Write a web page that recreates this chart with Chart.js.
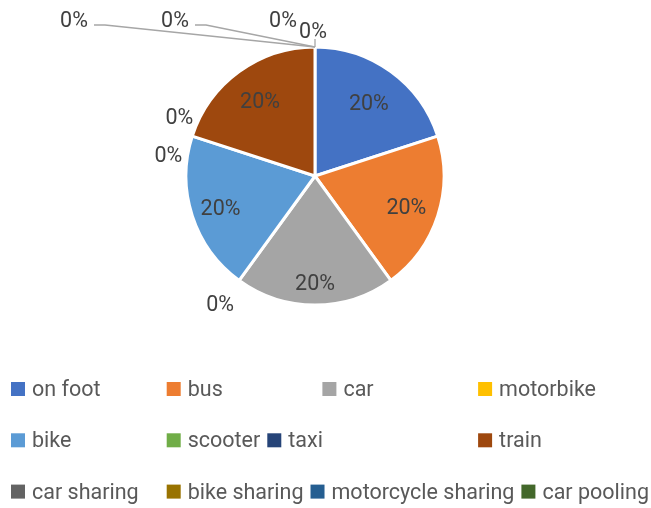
<!DOCTYPE html>
<html>
<head>
<meta charset="utf-8">
<script src="https://cdn.jsdelivr.net/npm/chart.js@4/dist/chart.umd.min.js"></script>
<style>
    body { margin: 0; background: #fff; }
    canvas { display: block; }
</style>
</head>
<body>
<canvas id="meuGrafico" width="651" height="508"></canvas>
<script>
const categories = ['on foot', 'bus', 'car', 'motorbike', 'bike', 'scooter', 'taxi', 'train',
    'car sharing', 'bike sharing', 'motorcycle sharing', 'car pooling']
const shares = [20, 20, 20, 0, 20, 0, 0, 20, 0, 0, 0, 0]
const sliceColors = ['#4472C4', '#ED7D31', '#A5A5A5', '#FFC000', '#5B9BD5', '#70AD47',
    '#264478', '#9E480E', '#636363', '#997300', '#255E91', '#43682B']

const fontName = '21.5px Roboto'

// Excel best fit puts the inner labels at slightly different depths
const insideDepth = { 'on foot': 0.71, 'bus': 0.745, 'car': 0.825, 'bike': 0.77, 'train': 0.725 }

// where Excel pushed the 0% labels, relative to the slice edge point
const zeroShift = {
    'motorbike': [-19, 23],
    'scooter': [-24, 18],
    'taxi': [-13, -20],
    'car sharing': [-241, -28],
    'bike sharing': [-140, -28],
    'motorcycle sharing': [-32, -28],
    'car pooling': [-2, -17]
}
const withLeader = ['car sharing', 'bike sharing']

const labelPlugin = {
    id: 'pieLabels',
    afterDatasetsDraw(chart) {
        const ctx = chart.ctx
        const arcs = chart.getDatasetMeta(0).data
        const total = shares.reduce((a, b) => a + b, 0)
        ctx.save()
        ctx.font = fontName
        ctx.fillStyle = '#404040'
        ctx.textAlign = 'center'
        ctx.textBaseline = 'alphabetic'
        arcs.forEach((arc, i) => {
            const p = arc.getProps(['x', 'y', 'startAngle', 'endAngle', 'outerRadius'], true)
            const text = Math.round(shares[i] / total * 100) + '%'
            const mid = (p.startAngle + p.endAngle) / 2
            if (shares[i] > 0) {
                const r = p.outerRadius * (insideDepth[categories[i]] || 0.74)
                ctx.fillText(text, p.x + Math.cos(mid) * r, p.y + Math.sin(mid) * r + 8)
                return
            }
            const bx = p.x + Math.cos(mid) * p.outerRadius
            const by = p.y + Math.sin(mid) * p.outerRadius
            const shift = zeroShift[categories[i]] || [0, -20]
            const lx = bx + shift[0]
            const ly = by + shift[1]
            ctx.fillText(text, lx, ly + 8)
            ctx.strokeStyle = '#A6A6A6'
            ctx.lineWidth = 1.3
            if (withLeader.includes(categories[i])) {
                ctx.beginPath()
                ctx.moveTo(lx + 20, ly + 6)
                ctx.lineTo(lx + 31, ly + 6)
                ctx.lineTo(bx, by)
                ctx.stroke()
            } else if (categories[i] === 'car pooling') {
                ctx.beginPath()
                ctx.moveTo(bx, ly + 9)
                ctx.lineTo(bx, by)
                ctx.stroke()
            }
        })
        ctx.restore()
    }
}

// Excel style legend: 4 slots per row, some items packed after the previous one
const legendRows = [[0, 1, 2, 3], [4, 5, 6, 7], [8, 9, 10, 11]]
const packed = ['taxi', 'motorcycle sharing', 'car pooling']

const legendPlugin = {
    id: 'excelLegend',
    afterDraw(chart) {
        const ctx = chart.ctx
        ctx.save()
        ctx.font = fontName
        ctx.textBaseline = 'alphabetic'
        ctx.textAlign = 'left'
        legendRows.forEach((row, r) => {
            const cy = 389 + r * 51.3
            let prevEnd = 0
            row.forEach((idx, slot) => {
                const name = categories[idx]
                let x = 11 + slot * 155.7
                if (packed.includes(name)) x = prevEnd + 7
                ctx.fillStyle = sliceColors[idx]
                ctx.fillRect(x, cy - 7, 14, 14)
                ctx.fillStyle = '#595959'
                ctx.fillText(name, x + 21, cy + 7)
                prevEnd = x + 21 + ctx.measureText(name).width
            })
        })
        ctx.restore()
    }
}

const ctx = document.getElementById('meuGrafico')

new Chart(ctx, {
    type: 'pie',
    data: {
        labels: categories,
        datasets: [{
            data: shares,
            backgroundColor: sliceColors,
            borderColor: '#FFFFFF',
            borderWidth: 3
        }]
    },
    options: {
        responsive: false,
        animation: false,
        radius: 129,
        layout: { padding: { left: 0, top: 0, right: 21, bottom: 156 } },
        plugins: {
            legend: { display: false },
            tooltip: { enabled: false }
        },
        events: []
    },
    plugins: [labelPlugin, legendPlugin]
})
</script>
</body>
</html>
